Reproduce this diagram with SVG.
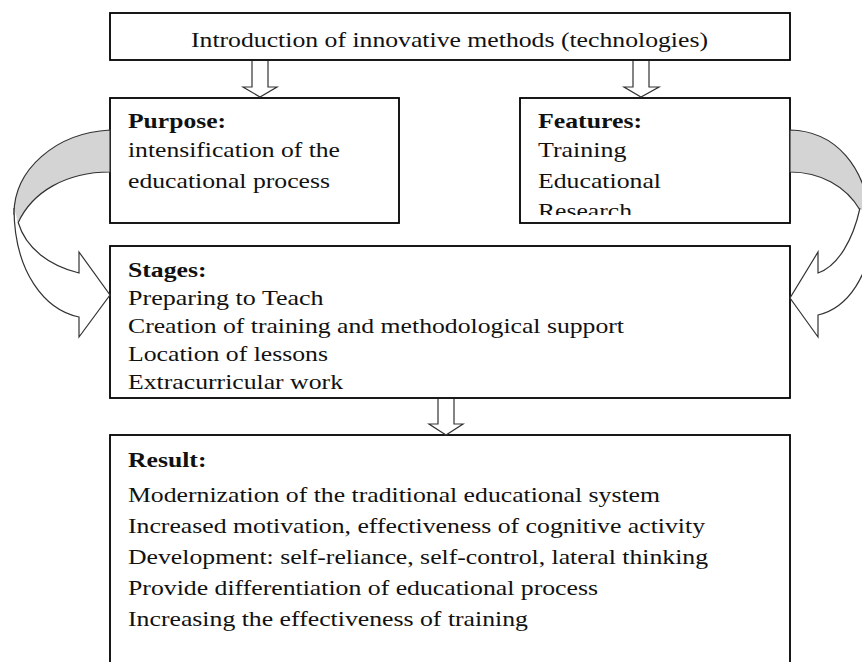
<svg xmlns="http://www.w3.org/2000/svg" width="862" height="662" viewBox="0 0 862 662">
<style>
.box{fill:#fff;stroke:#000;stroke-width:1.8}
.arr{fill:#fff;stroke:#333;stroke-width:1.2;stroke-linejoin:miter}
.band{fill:#d4d4d4;stroke:#333;stroke-width:1.2}
</style>
<defs>
<clipPath id="clipFeat"><rect x="520" y="98" width="270" height="117"/></clipPath>
</defs>
<rect width="862" height="662" fill="#fff"/>

<g id="node-intro" font-family="Liberation Serif" font-size="21" fill="#111">
<rect class="box" x="110" y="13" width="680" height="47"/>
<text x="191" y="47" textLength="517" lengthAdjust="spacingAndGlyphs">Introduction of innovative methods (technologies)</text>
</g>

<g id="node-purpose" font-family="Liberation Serif" font-size="21" fill="#111">
<rect class="box" x="110" y="98" width="289" height="125"/>
<text x="128" y="128" font-weight="bold" textLength="98" lengthAdjust="spacingAndGlyphs">Purpose:</text>
<text x="128" y="157" textLength="212" lengthAdjust="spacingAndGlyphs">intensification of the</text>
<text x="128" y="188" textLength="202" lengthAdjust="spacingAndGlyphs">educational process</text>
</g>

<g id="node-features" font-family="Liberation Serif" font-size="21" fill="#111">
<rect class="box" x="520" y="98" width="270" height="125"/>
<text x="538" y="128" font-weight="bold" textLength="104" lengthAdjust="spacingAndGlyphs">Features:</text>
<text x="538" y="157" textLength="88.5" lengthAdjust="spacingAndGlyphs">Training</text>
<text x="538" y="188" textLength="123" lengthAdjust="spacingAndGlyphs">Educational</text>
<g clip-path="url(#clipFeat)">
<text x="538" y="218" textLength="94" lengthAdjust="spacingAndGlyphs">Research</text>
</g>
</g>

<g id="node-stages" font-family="Liberation Serif" font-size="21" fill="#111">
<rect class="box" x="110" y="246" width="680" height="152"/>
<text x="128" y="277" font-weight="bold" textLength="78.5" lengthAdjust="spacingAndGlyphs">Stages:</text>
<text x="128" y="305" textLength="195.6" lengthAdjust="spacingAndGlyphs">Preparing to Teach</text>
<text x="128" y="333" textLength="496" lengthAdjust="spacingAndGlyphs">Creation of training and methodological support</text>
<text x="128" y="361" textLength="200" lengthAdjust="spacingAndGlyphs">Location of lessons</text>
<text x="128" y="389" textLength="215" lengthAdjust="spacingAndGlyphs">Extracurricular work</text>
</g>

<g id="node-result" font-family="Liberation Serif" font-size="21" fill="#111">
<rect class="box" x="110" y="435" width="680" height="250"/>
<text x="128" y="467" font-weight="bold" textLength="78.5" lengthAdjust="spacingAndGlyphs">Result:</text>
<text x="128" y="502" textLength="532" lengthAdjust="spacingAndGlyphs">Modernization of the traditional educational system</text>
<text x="128" y="533" textLength="577" lengthAdjust="spacingAndGlyphs">Increased motivation, effectiveness of cognitive activity</text>
<text x="128" y="564" textLength="580" lengthAdjust="spacingAndGlyphs">Development: self-reliance, self-control, lateral thinking</text>
<text x="128" y="595" textLength="470" lengthAdjust="spacingAndGlyphs">Provide differentiation of educational process</text>
<text x="128" y="626" textLength="400" lengthAdjust="spacingAndGlyphs">Increasing the effectiveness of training</text>
</g>

<g id="connectors">
<path class="arr" d="M252,61 L252,87 L243,87 L260,97 L277,87 L268,87 L268,61"/>
<path class="arr" d="M633,61 L633,87 L624,87 L641,97 L659,87 L649,87 L649,61"/>
<path class="arr" d="M438,399 L438,424 L429,424 L446,435 L463,424 L454,424 L454,399"/>
<path class="band" d="M110,130 C55,133 14,170 14,214 L18,223 C32,192 66,172 110,172 Z"/>
<path class="arr" d="M14,208 C14,272 45,310 79,317 L79,337 L110,295 L79,252 L79,273 C50,266 26,249 18,222"/>
<path class="band" d="M790,130 C835,131 866,165 872,225 L860,210 C846,186 820,172 790,172 Z"/>
<path class="arr" d="M860,208 C853,240 838,266 818,273 L818,252 L790,298 L818,337 L818,315 C848,308 870,276 874,226"/>
</g>
</svg>
